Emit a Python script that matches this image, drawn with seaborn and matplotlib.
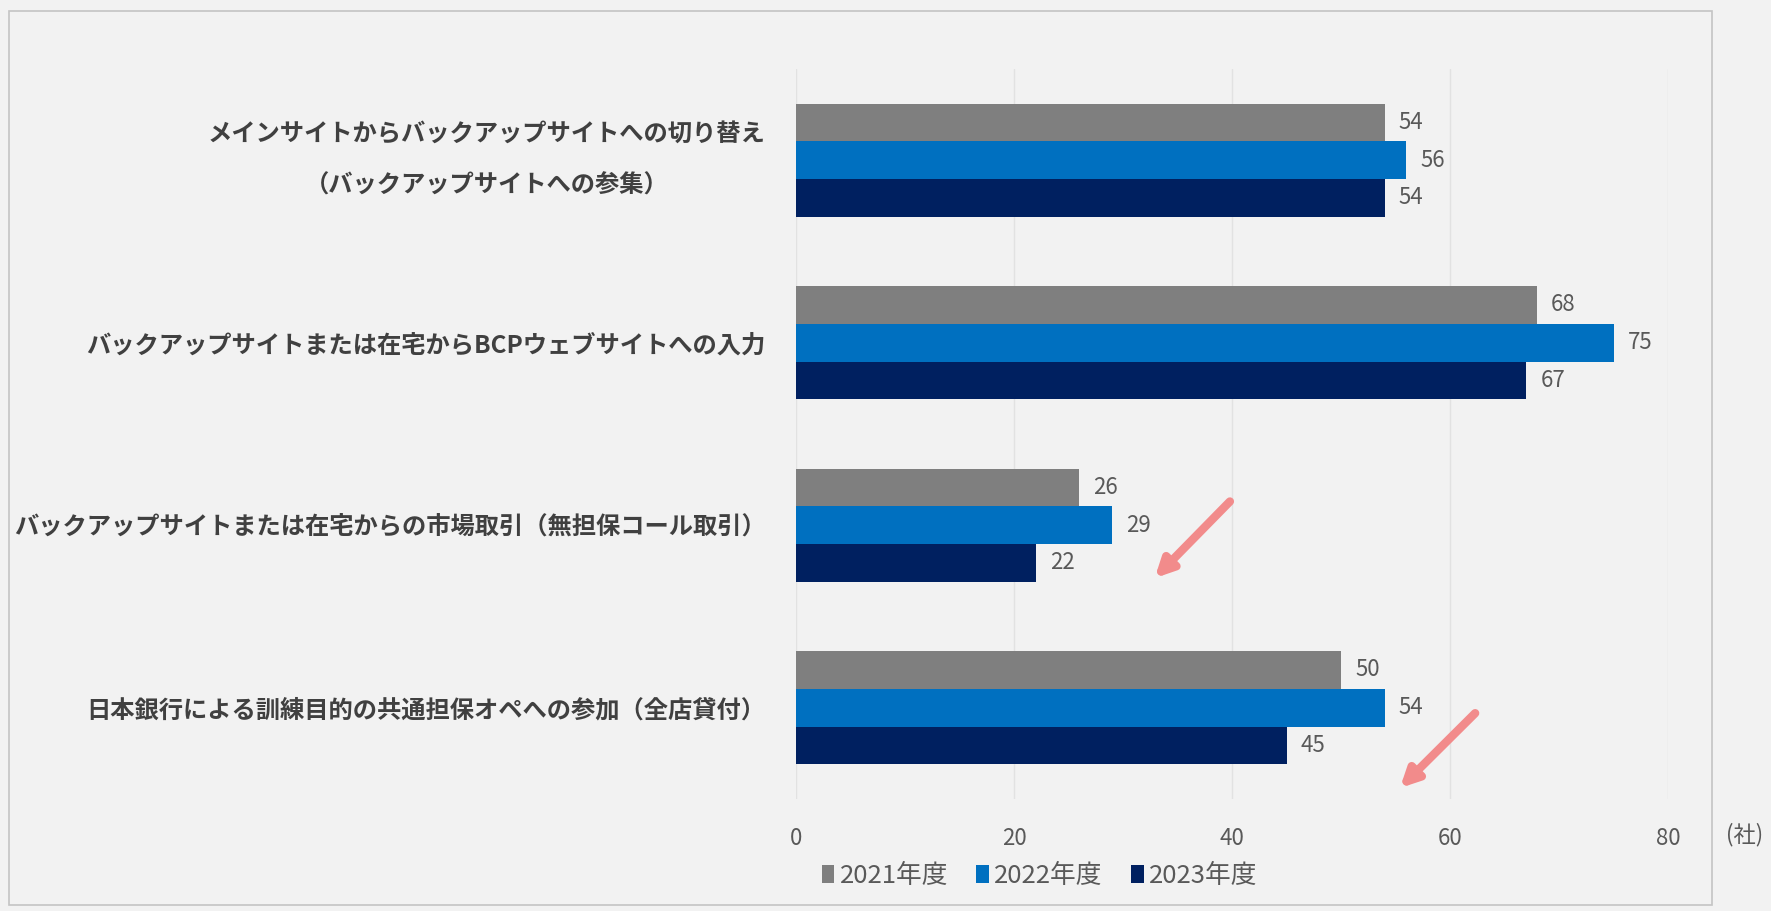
import matplotlib
matplotlib.use("Agg")
import matplotlib.pyplot as plt
import seaborn as sns
import pandas as pd
from matplotlib.patches import Rectangle

# --- data -------------------------------------------------------------
categories = [
    "メインサイトからバックアップサイトへの切り替え\n（バックアップサイトへの参集）",
    "バックアップサイトまたは在宅からBCPウェブサイトへの入力",
    "バックアップサイトまたは在宅からの市場取引（無担保コール取引）",
    "日本銀行による訓練目的の共通担保オペへの参加（全店貸付）",
]
years = ["2021年度", "2022年度", "2023年度"]
values_2021 = [54, 68, 26, 50]
values_2022 = [56, 75, 29, 54]
values_2023 = [54, 67, 22, 45]
x_ticks = [0, 20, 40, 60, 80]
unit_label = "(社)"

# --- style --------------------------------------------------------------
sns.set_theme(style="white")
plt.rcParams["font.family"] = ["Noto Sans CJK JP", "DejaVu Sans"]

BG = "#f2f2f2"
TXT = "#595959"
palette = ["#7f7f7f", "#0070c0", "#002060"]

rows = []
for year, vals in zip(years, [values_2021, values_2022, values_2023]):
    for cat, v in zip(categories, vals):
        rows.append({"項目": cat, "年度": year, "社数": v})
df = pd.DataFrame(rows)

fig = plt.figure(figsize=(17.71, 9.11), dpi=100, facecolor=BG)
ax = fig.add_axes([0.4495, 0.123, 0.4924, 0.8013])
ax.set_facecolor(BG)

sns.barplot(data=df, y="項目", x="社数", hue="年度", order=categories,
            hue_order=years, palette=palette, width=0.62, orient="h",
            saturation=1, linewidth=0, ax=ax, legend=True)

# value labels at the bar ends
for container in ax.containers:
    ax.bar_label(container, padding=10, fontsize=16, color=TXT)

ax.set_xlim(0, 80)
ax.set_ylim(3.5, -0.5)
ax.set_xticks(x_ticks)
ax.set_xlabel("")
ax.set_ylabel("")
ax.grid(axis="x", color="#e2e2e2", lw=1)
ax.set_axisbelow(True)
for s in ax.spines.values():
    s.set_visible(False)

ax.tick_params(axis="x", length=0, pad=20, labelsize=16, labelcolor=TXT)
ax.tick_params(axis="y", length=0, pad=22, labelsize=17.5, labelcolor="#404040")
for lbl in ax.get_yticklabels():
    lbl.set_fontweight("bold")
    lbl.set_multialignment("center")
    lbl.set_linespacing(2.4)
    if "\n" in lbl.get_text():
        lbl.set_verticalalignment("center")

fig.text(0.985, 1 - 835 / 911, unit_label, ha="center", va="center",
         fontsize=16, color=TXT)

# legend below the axis
handles, labels = ax.get_legend_handles_labels()
ax.legend(handles, labels, loc="center", bbox_to_anchor=(0.587, 0.038),
          bbox_transform=fig.transFigure, ncol=3, frameon=False,
          handlelength=0.5, handleheight=0.7, handletextpad=0.2,
          columnspacing=1.1, fontsize=18.5, labelcolor=TXT)

# highlight arrows
arrow_kw = dict(arrowstyle="-|>", color="#f28b8b", lw=6, mutation_scale=26,
                shrinkA=0, shrinkB=0)
ax.annotate("", xy=(32.9, 2.29), xytext=(39.8, 1.87), arrowprops=arrow_kw)
ax.annotate("", xy=(55.4, 3.44), xytext=(62.3, 3.03), arrowprops=arrow_kw)

# outer frame
fig.patches.append(Rectangle((9 / 1771, 1 - 905 / 911), (1712 - 9) / 1771,
                             (905 - 11) / 911, transform=fig.transFigure,
                             fill=False, edgecolor="#c4c4c4", lw=1.2))

fig.savefig("out.png", dpi=100, facecolor=BG)
